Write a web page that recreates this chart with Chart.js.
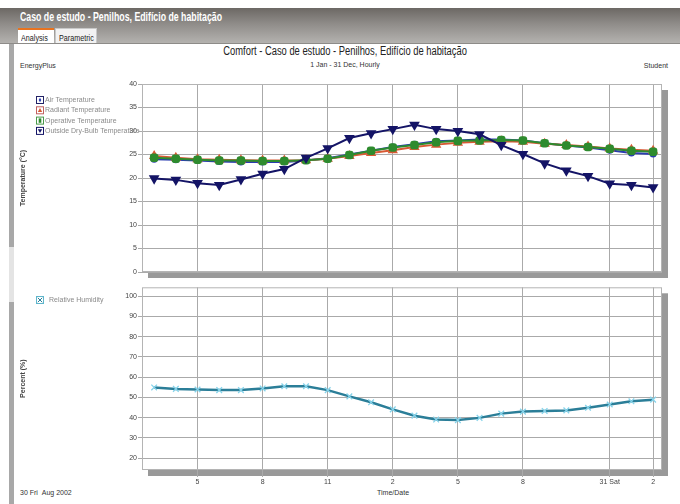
<!DOCTYPE html>
<html>
<head>
<meta charset="utf-8">
<script src="https://cdn.jsdelivr.net/npm/chart.js@4.4.1/dist/chart.umd.min.js"></script>
<style>
body { margin: 0; width: 680px; height: 504px; overflow: hidden; background: #fff; position: relative; font-family: "Liberation Sans", Arial, sans-serif; }
#bar { position: absolute; left: 0; top: 8px; width: 680px; height: 35px; background: linear-gradient(#6c6864, #8f8c89 45%, #b4b2af); border-bottom: 1px solid #8d8b88; }
#bar .ttl { position: absolute; left: 20px; top: 2px; color: #fff; font: bold 12px "Liberation Sans", Arial, sans-serif; transform: scaleX(0.73); transform-origin: left center; white-space: nowrap; }
.tab { position: absolute; top: 20px; height: 15px; box-sizing: border-box; overflow: hidden; }
.tab span { display: inline-block; font: 9px "Liberation Sans", sans-serif; color: #222; transform: scaleX(0.8); transform-origin: left center; margin-left: 3px; white-space: nowrap; }
#t1 { left: 18px; width: 36px; background: #fff; border-top: 2px solid #e8731f; line-height: 12px; }
#t2 { left: 55px; width: 42px; background: #f2f2f2; border: 1px solid #c8c8c8; border-bottom: none; line-height: 13px; }
#strip { position: absolute; left: 9px; top: 44px; width: 5px; height: 460px; background: #a8a8a8; }
#handle { position: absolute; left: 9px; top: 247px; width: 5px; height: 55px; background: #e4e4e4; }
.txt { position: absolute; color: #333; white-space: nowrap; }
.narrow { display: inline-block; transform: scaleX(0.78); transform-origin: center center; }
canvas { position: absolute; left: 0; }
</style>
</head>
<body>
<div id="bar"><span class="ttl">Caso de estudo - Penilhos, Edifício de habitação</span>
<div class="tab" id="t1"><span>Analysis</span></div><div class="tab" id="t2"><span>Parametric</span></div></div>
<div id="strip"></div><div id="handle"></div>
<div class="txt" style="left:0;width:690px;text-align:center;top:44px;font:12px 'Liberation Sans',sans-serif;color:#222"><span class="narrow">Comfort - Caso de estudo - Penilhos, Edifício de habitação</span></div>
<div class="txt" style="left:0;width:690px;text-align:center;top:61px;font:7px 'Liberation Sans',sans-serif">1 Jan - 31 Dec, Hourly</div>
<div class="txt" style="left:20px;top:62px;font:7px 'Liberation Sans',sans-serif">EnergyPlus</div>
<div class="txt" style="right:12px;top:62px;font:7px 'Liberation Sans',sans-serif">Student</div>
<div class="txt" style="left:20px;top:489px;font:7px 'Liberation Sans',sans-serif">30 Fri &nbsp;Aug 2002</div>
<div class="txt" style="left:377px;top:489px;font:7px 'Liberation Sans',sans-serif">Time/Date</div>
<div class="txt" style="left:613px;top:459px;font:5px 'Liberation Sans',sans-serif;color:#999">sáb, 31 Ago 2002</div>
<canvas id="top" width="680" height="206" style="top:76px"></canvas>
<canvas id="bot" width="680" height="222" style="top:282px"></canvas>
<script>
// hourly values, 30 Aug 03:00 -> 31 Aug 02:00
const hours = [3, 4, 5, 6, 7, 8, 9, 10, 11, 12, 13, 14, 15, 16, 17, 18, 19, 20, 21, 22, 23, 24, 25, 26];
const airTemp = [24.0, 23.9, 23.7, 23.5, 23.4, 23.4, 23.4, 23.7, 24.2, 25.0, 25.8, 26.6, 27.2, 27.8, 28.0, 28.2, 28.2, 28.0, 27.4, 26.9, 26.5, 25.9, 25.3, 25.1];
const radiantTemp = [24.7, 24.3, 24.0, 23.9, 23.8, 23.7, 23.7, 23.8, 24.1, 24.7, 25.3, 25.9, 26.6, 27.1, 27.5, 27.7, 27.8, 27.7, 27.3, 27.0, 26.7, 26.3, 26.0, 25.8];
const operativeTemp = [24.3, 24.1, 23.9, 23.7, 23.7, 23.6, 23.6, 23.8, 24.1, 24.9, 25.8, 26.5, 27.0, 27.6, 27.9, 28.0, 28.1, 28.0, 27.4, 26.9, 26.6, 26.2, 25.8, 25.6];
const outsideTemp = [19.9, 19.6, 18.9, 18.5, 19.7, 20.9, 21.9, 24.3, 26.3, 28.5, 29.5, 30.4, 31.3, 30.4, 30.0, 29.3, 27.0, 25.1, 23.1, 21.6, 20.4, 18.8, 18.5, 18.0];
const humidity = [54.9, 54.2, 53.9, 53.6, 53.6, 54.4, 55.5, 55.5, 53.6, 50.5, 47.6, 44.1, 41.0, 39.1, 38.8, 39.9, 42.0, 43.0, 43.3, 43.6, 44.9, 46.5, 48.1, 48.9];

const tempTicks = [0, 5, 10, 15, 20, 25, 30, 35, 40];
const rhTicks = [20, 30, 40, 50, 60, 70, 80, 90, 100];
const timeTicks = [5, 8, 11, 14, 17, 20, 24, 26];
const timeLabels = ['5', '8', '11', '2', '5', '8', '31 Sat', '2'];

const gridColor = '#aaaaaa';
const tickFont = { family: 'Liberation Sans', size: 7 };

function pts(values) {
    return hours.map((h, i) => ({ x: h, y: values[i] }));
}

// drop shadow + border round the plot area
const framePlugin = {
    id: 'frame',
    beforeDraw(chart) {
        const { ctx, chartArea: a } = chart;
        ctx.save();
        ctx.fillStyle = '#999';
        ctx.fillRect(a.left + 6, a.top + 6, a.right - a.left, a.bottom - a.top);
        ctx.fillStyle = '#fff';
        ctx.fillRect(a.left, a.top, a.right - a.left, a.bottom - a.top);
        ctx.restore();
    },
    beforeDatasetsDraw(chart) {
        const { ctx, chartArea: a } = chart;
        ctx.save();
        ctx.strokeStyle = '#b4b4b4';
        ctx.lineWidth = 1;
        ctx.strokeRect(a.left + 0.5, a.top + 0.5, a.right - a.left - 1, a.bottom - a.top - 1);
        ctx.restore();
    }
};

function drawMarker(ctx, style, x, y, r, color) {
    ctx.fillStyle = color;
    ctx.strokeStyle = color;
    ctx.beginPath();
    if (style === 'down') {
        ctx.moveTo(x - r, y - r * 0.8); ctx.lineTo(x + r, y - r * 0.8); ctx.lineTo(x, y + r); ctx.closePath(); ctx.fill();
    } else if (style === 'up') {
        ctx.moveTo(x - r, y + r * 0.8); ctx.lineTo(x + r, y + r * 0.8); ctx.lineTo(x, y - r); ctx.closePath(); ctx.fill();
    } else if (style === 'diamond') {
        ctx.moveTo(x, y - r); ctx.lineTo(x + r * 0.6, y); ctx.lineTo(x, y + r); ctx.lineTo(x - r * 0.6, y); ctx.closePath(); ctx.fill();
    } else if (style === 'rect') {
        ctx.fillRect(x - r * 0.6, y - r, r * 1.2, r * 2);
    } else {
        ctx.lineWidth = 1;
        ctx.moveTo(x - r, y - r); ctx.lineTo(x + r, y + r);
        ctx.moveTo(x + r, y - r); ctx.lineTo(x - r, y + r);
        ctx.stroke();
    }
}

// small boxed legend at the left of each panel
const boxLegend = {
    id: 'boxLegend',
    afterDraw(chart, args, opts) {
        const ctx = chart.ctx;
        ctx.save();
        ctx.font = '7px "Liberation Sans", sans-serif';
        ctx.textBaseline = 'middle';
        chart.data.datasets.forEach((ds, i) => {
            const y = opts.y + i * opts.step;
            ctx.fillStyle = '#fff';
            ctx.fillRect(opts.x, y - 4, 8, 8);
            ctx.strokeStyle = ds.legendBorder;
            ctx.lineWidth = 1;
            ctx.strokeRect(opts.x + 0.5, y - 3.5, 7, 7);
            drawMarker(ctx, ds.legendMarker, opts.x + 4, y, 2.2, ds.borderColor);
            ctx.fillStyle = '#8a8a8a';
            ctx.fillText(ds.label, opts.textX, y);
        });
        ctx.restore();
    }
};

function xScale(showLabels) {
    return {
        type: 'linear',
        min: 2.44,
        max: 26.41,
        afterBuildTicks: s => { s.ticks = timeTicks.map(v => ({ value: v })); },
        afterFit: s => { s.height = showLabels ? 34 : 10; },
        border: { display: false },
        grid: { color: gridColor, drawTicks: showLabels, tickLength: 7 },
        ticks: {
            display: showLabels,
            font: tickFont,
            color: '#444',
            padding: 1,
            maxRotation: 0,
            autoSkip: false,
            callback: v => timeLabels[timeTicks.indexOf(v)]
        }
    };
}

function yScale(min, max, tickList, title) {
    return {
        min: min,
        max: max,
        afterBuildTicks: s => { s.ticks = tickList.map(v => ({ value: v })); },
        afterFit: s => { s.width = 142; },
        border: { display: false },
        grid: { color: gridColor, tickLength: 4 },
        ticks: { font: tickFont, color: '#444', padding: 1 },
        title: {
            display: true,
            text: title,
            color: '#444',
            font: { family: 'Liberation Sans', size: 7, weight: 'bold' },
            padding: { top: 19 }
        }
    };
}

new Chart(document.getElementById('top'), {
    type: 'line',
    data: {
        datasets: [
            { label: 'Air Temperature', data: pts(airTemp), order: 3, borderColor: '#2a3cb0', backgroundColor: '#2a3cb0', borderWidth: 2, pointStyle: 'circle', pointRadius: 2.5, legendMarker: 'diamond', legendBorder: '#222266' },
            { label: 'Radiant Temperature', data: pts(radiantTemp), order: 2, borderColor: '#d85a34', backgroundColor: '#d85a34', borderWidth: 2, pointStyle: 'triangle', pointRadius: 4, legendMarker: 'up', legendBorder: '#c06060' },
            { label: 'Operative Temperature', data: pts(operativeTemp), order: 1, borderColor: '#2e8b2e', backgroundColor: '#2e8b2e', borderWidth: 2, pointStyle: 'rectRounded', pointRadius: 3.8, legendMarker: 'rect', legendBorder: '#4a9a4a' },
            { label: 'Outside Dry-Bulb Temperature', data: pts(outsideTemp), order: 0, borderColor: '#141466', backgroundColor: '#141466', borderWidth: 2, pointStyle: 'triangle', pointRotation: 180, pointRadius: 4.2, legendMarker: 'down', legendBorder: '#141466' }
        ]
    },
    options: {
        responsive: false,
        animation: false,
        layout: { padding: { left: 0, right: 18, top: 8, bottom: 0 } },
        plugins: {
            legend: { display: false },
            tooltip: { enabled: false },
            boxLegend: { x: 36, textX: 45, y: 24, step: 10.3 }
        },
        elements: { line: { tension: 0 }, point: { borderWidth: 0 } },
        scales: {
            x: xScale(false),
            y: yScale(0, 40, tempTicks, 'Temperature (°C)')
        }
    },
    plugins: [framePlugin, boxLegend]
});

new Chart(document.getElementById('bot'), {
    type: 'line',
    data: {
        datasets: [
            { label: 'Relative Humidity', data: pts(humidity), borderColor: '#2b7e98', backgroundColor: '#2b7e98', borderWidth: 2.5, pointStyle: 'crossRot', pointRadius: 4, pointBorderColor: '#86d3ea', pointBorderWidth: 1.3, legendMarker: 'cross', legendBorder: '#5fb6cc' }
        ]
    },
    options: {
        responsive: false,
        animation: false,
        layout: { padding: { left: 0, right: 18, top: 1, bottom: 0 } },
        plugins: {
            legend: { display: false },
            tooltip: { enabled: false },
            boxLegend: { x: 36, textX: 49, y: 18, step: 10 }
        },
        elements: { line: { tension: 0 } },
        scales: {
            x: xScale(true),
            y: yScale(14.2, 104.3, rhTicks, 'Percent (%)')
        }
    },
    plugins: [framePlugin, boxLegend]
});
</script>
</body>
</html>
